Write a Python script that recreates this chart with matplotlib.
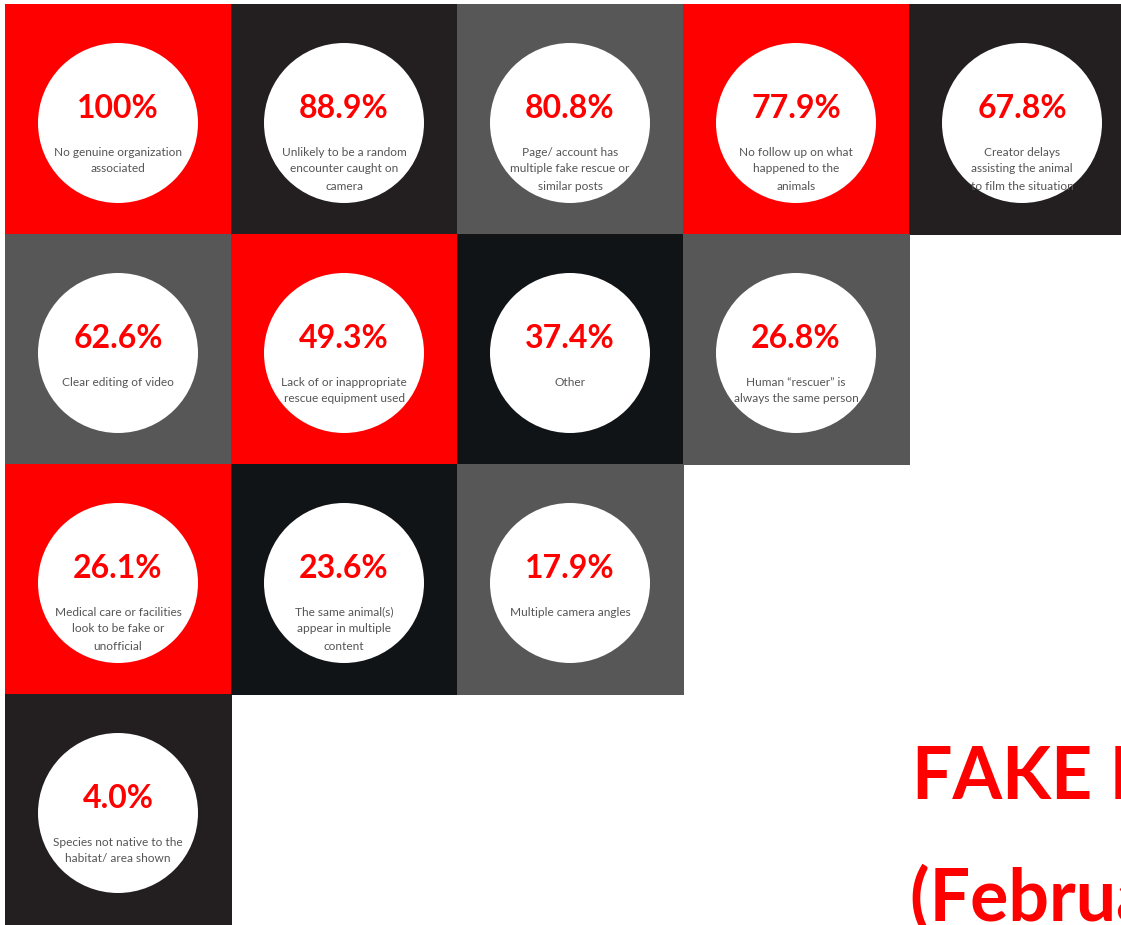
import matplotlib.pyplot as plt
from matplotlib.patches import Rectangle, Circle

# percentages of fake rescue videos showing each sign
values = [100, 88.9, 80.8, 77.9, 67.8, 62.6, 49.3, 37.4, 26.8, 26.1, 23.6, 17.9, 4.0]
labels = [
    "No genuine organization\nassociated",
    "Unlikely to be a random\nencounter caught on\ncamera",
    "Page/ account has\nmultiple fake rescue or\nsimilar posts",
    "No follow up on what\nhappened to the\nanimals",
    "Creator delays\nassisting the animal\nto film the situation",
    "Clear editing of video",
    "Lack of or inappropriate\nrescue equipment used",
    "Other",
    "Human \u201crescuer\u201d is\nalways the same person",
    "Medical care or facilities\nlook to be fake or\nunofficial",
    "The same animal(s)\nappear in multiple\ncontent",
    "Multiple camera angles",
    "Species not native to the\nhabitat/ area shown",
]
tile_colors = ["#ff0000", "#231f20", "#575757", "#ff0000", "#231f20",
               "#575757", "#ff0000", "#101417", "#575757",
               "#ff0000", "#101417", "#575757",
               "#231f20"]
row_counts = [5, 4, 3, 1]
title_lines = ["FAKE RESCUE CONTENT", "(February 2023)"]

W, H = 1121, 925
fig = plt.figure(figsize=(W / 100, H / 100), dpi=100)
ax = fig.add_axes([0, 0, 1, 1])
ax.set_xlim(0, W)
ax.set_ylim(H, 0)
ax.axis("off")

tile_w, tile_h = 226, 230
x0, y0 = 5, 4
radius = 80

i = 0
for r, n in enumerate(row_counts):
    for c in range(n):
        left = x0 + c * tile_w
        top = y0 + r * tile_h
        ax.add_patch(Rectangle((left, top), tile_w + 1, tile_h + 1,
                               facecolor=tile_colors[i], edgecolor="none"))
        cx, cy = left + tile_w / 2, top + 119
        circ = Circle((cx, cy), radius, facecolor="white", edgecolor="none")
        ax.add_patch(circ)
        txt = f"{values[i]:g}%" if values[i] == 100 else f"{values[i]:.1f}%"
        ax.text(cx, cy - 14, txt, ha="center", va="center", color="#ff0000",
                fontsize=23, family="Lato", fontweight="bold")
        # description lines, clipped by the circle like the original
        for k, line in enumerate(labels[i].split("\n")):
            t = ax.text(cx, cy + 29 + k * 17, line, ha="center", va="center",
                        color="#555555", fontsize=8.6, family="Lato")
            t.set_clip_path(circ)
        i += 1

ax.text(912, 800, title_lines[0], ha="left", va="baseline", color="#ff0000",
        fontsize=51.5, family="Lato", fontweight="bold")
ax.text(910, 921, title_lines[1], ha="left", va="baseline", color="#ff0000",
        fontsize=51.5, family="Lato", fontweight="bold")

fig.savefig("out.png", dpi=100)
